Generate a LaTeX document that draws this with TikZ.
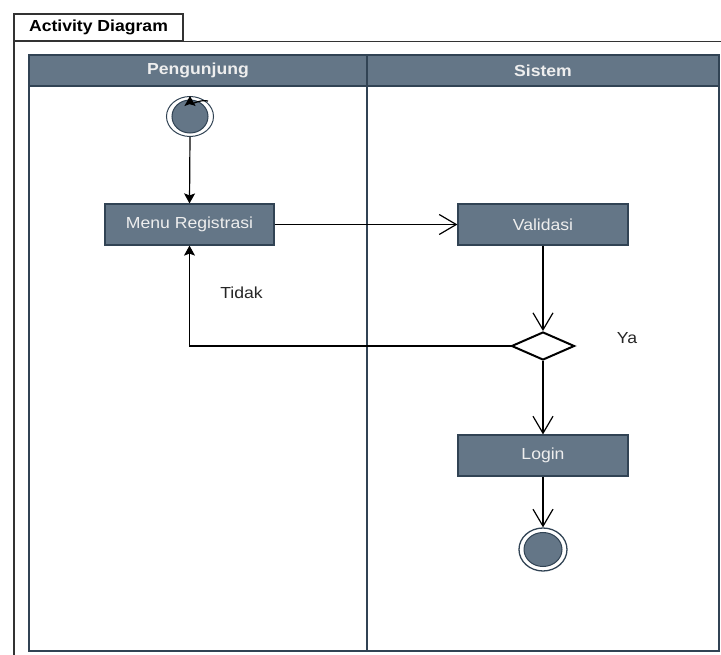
\documentclass[tikz,border=0pt]{standalone}
\usepackage{fontspec}
\usepackage{graphicx}
\setmainfont{Liberation Sans}
\usetikzlibrary{shapes.geometric,arrows.meta}

\definecolor{slatefill}{HTML}{647687}
\definecolor{slateline}{HTML}{314354}
\definecolor{frameline}{HTML}{333333}
\definecolor{lighttext}{HTML}{EEEEEE}

% wide text, as the diagram sets it
\newcommand{\widetxt}[1]{\scalebox{1.1}[1]{#1}}

\tikzset{
  x=1pt, y=-1pt,
  txt/.style={font=\fontsize{16}{19}\selectfont},
  actionbox/.style={txt, rectangle, draw=slateline, fill=slatefill, line width=1.2pt,
    minimum width=170pt, minimum height=41pt, inner sep=0pt, text=lighttext},
  lanehead/.style={txt, rectangle, draw=slateline, fill=slatefill, line width=1.2pt,
    inner sep=0pt, text=lighttext, font=\fontsize{16}{19}\selectfont\bfseries},
  lanebody/.style={rectangle, draw=slateline, line width=1.2pt, inner sep=0pt},
  ring/.style={ellipse, draw=slateline, fill=white, line width=1pt, inner sep=0pt},
  core/.style={ellipse, draw=slateline, fill=slatefill, line width=1pt, inner sep=0pt},
  flow/.style={line width=1.2pt, black, -{Straight Barb[length=17pt,width=20pt]}},
  solidflow/.style={line width=1.2pt, black, -{Stealth[length=10pt,width=11pt,inset=2pt]}},
  note/.style={txt, text=black!85, inner sep=0pt},
}

\begin{document}
\begin{tikzpicture}
\useasboundingbox (0,0) rectangle (721,655);

% outer frame and its tab
\node[txt, rectangle, draw=frameline, line width=1.3pt, minimum width=169pt, minimum height=27pt,
  inner sep=0pt, font=\fontsize{16}{19}\selectfont\bfseries] (tab) at (98.5,27.5) {\widetxt{Activity Diagram}};
\coordinate (frameTL) at (14,41.5);
\coordinate (frameBL) at (14,655);
\coordinate (frameTR) at (721,41.5);
\draw[frameline, line width=1.3pt] (frameBL) -- (frameTL) -- (frameTR);

% swimlanes
\node[lanebody, minimum width=338pt, minimum height=565pt] (laneA) at (198,368.5) {};
\node[lanebody, minimum width=352pt, minimum height=565pt] (laneB) at (543,368.5) {};
\node[lanehead, minimum width=338pt, minimum height=31pt] (headA) at (198,70.5) {\widetxt{Pengunjung}};
\node[lanehead, minimum width=352pt, minimum height=31pt] (headB) at (543,70.5) {\widetxt{Sistem}};

% initial node
\node[ring, minimum width=47pt, minimum height=40pt] (start) at (190,116.5) {};
\node[core, minimum width=36pt, minimum height=33pt] (startcore) at (190,116.5) {};
\coordinate (loopA) at (208,101);
\draw[solidflow] (loopA) .. controls (199,99) and (190,106) .. (start.north);

% actions
\node[actionbox, minimum width=169pt] (menu) at (189.5,224.5) {\widetxt{Menu Registrasi}};
\node[actionbox] (valid) at (543,224.5) {\widetxt{Validasi}};
\node[diamond, draw=black, fill=white, line width=2pt, minimum width=63pt, minimum height=28pt,
  inner sep=0pt] (dec) at (543,346) {};
\node[actionbox] (login) at (543,455.5) {\widetxt{Login}};

% final node
\node[ring, minimum width=48pt, minimum height=43pt, line width=1.3pt] (end) at (543,549.5) {};
\node[core, minimum width=38pt, minimum height=34pt] (endcore) at (543,549.5) {};

% flows
\draw[solidflow] (start.south) -- (menu.north);
\draw[flow] (menu.east) -- (valid.west);
\draw[flow] (valid.south) -- (dec.north);
\draw[solidflow] (dec.west) -| (menu.south);
\draw[flow] (dec.south) -- (login.north);
\draw[flow] (login.south) -- (end.north);

% guards
\node[note] (tidak) at (241.5,293) {\widetxt{Tidak}};
\node[note] (ya) at (627,338) {\widetxt{Ya}};
\end{tikzpicture}
\end{document}
